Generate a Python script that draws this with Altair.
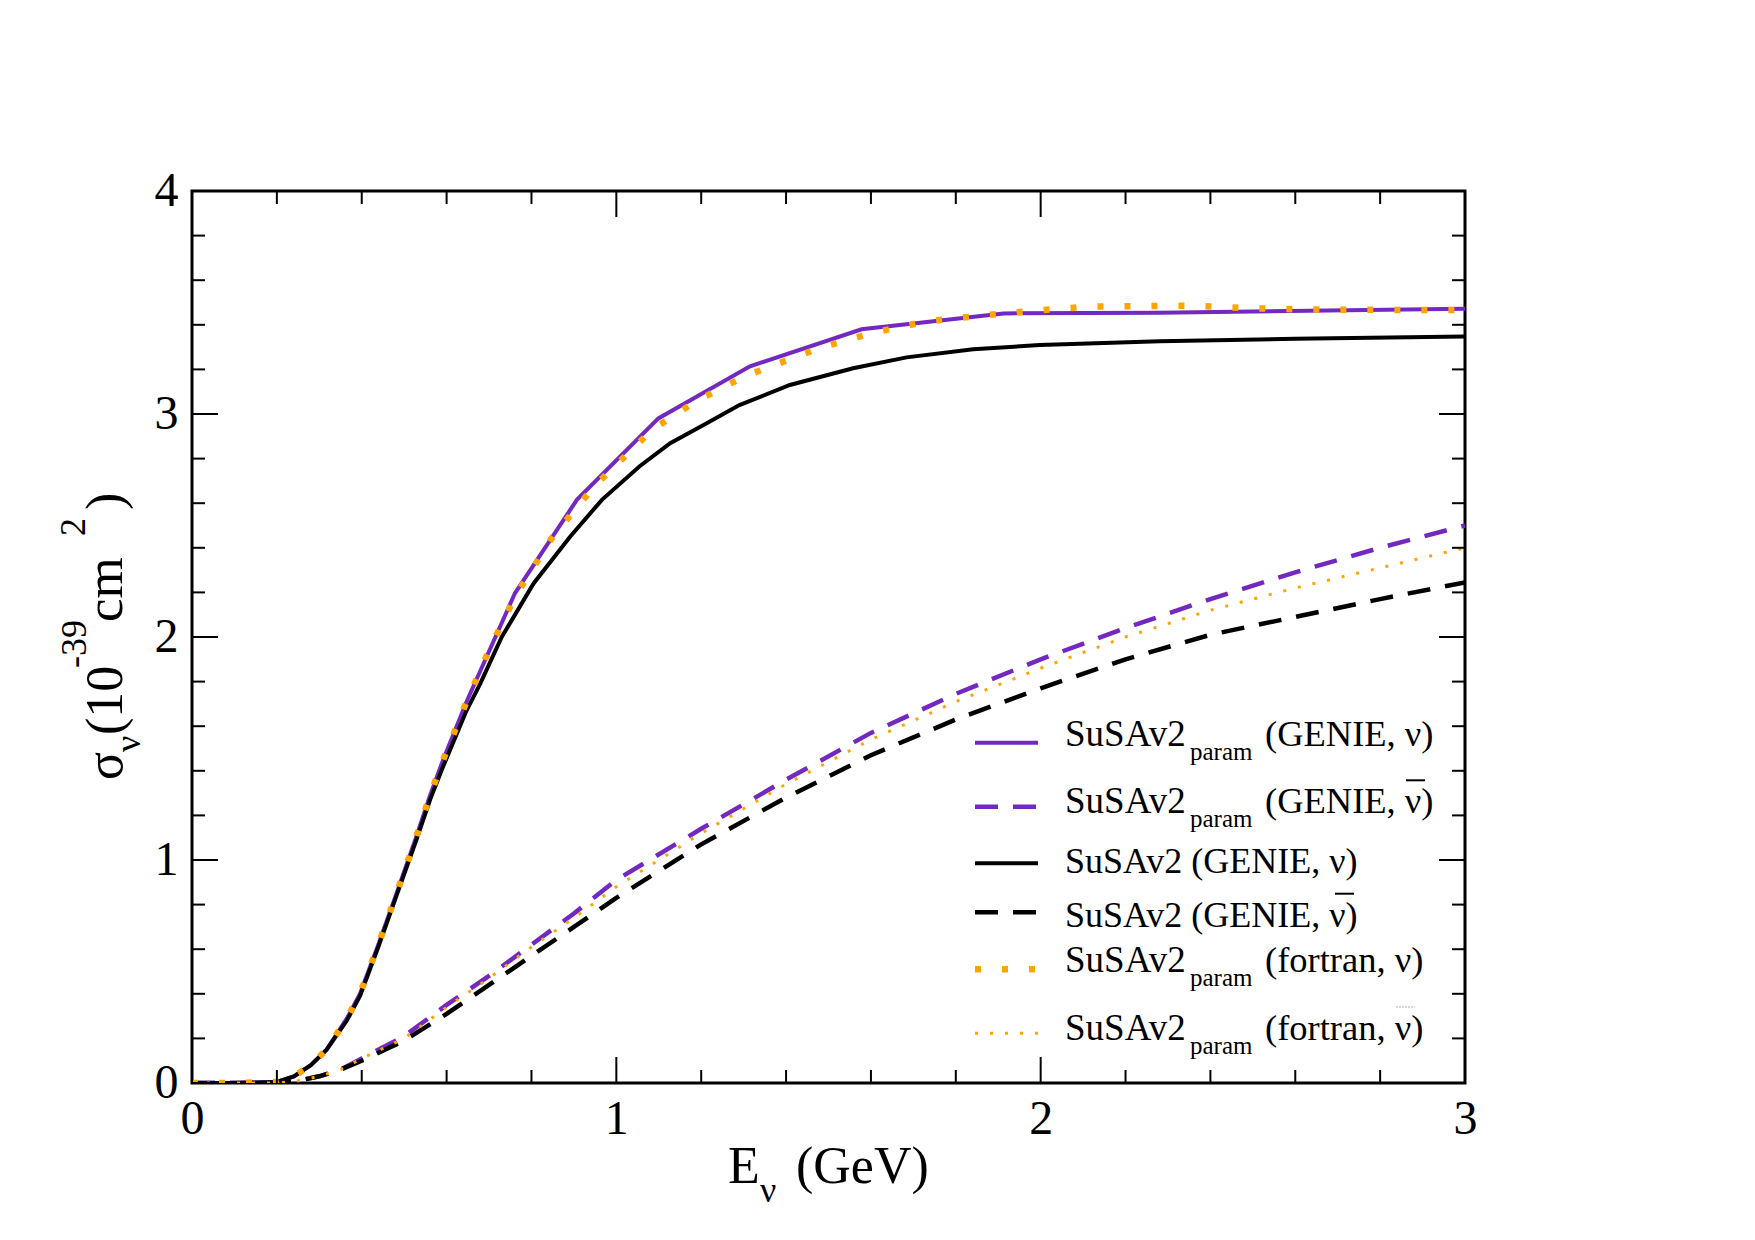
import altair as alt
import pandas as pd

# ---------------- data ----------------
E_param_genie_nu = [0, 0.1, 0.2, 0.24, 0.28, 0.317, 0.365, 0.396, 0.439, 0.482, 0.526, 0.561, 0.592, 0.647,
                    0.761, 0.907, 1.099, 1.315, 1.578, 1.912, 2.28, 3.0]
S_param_genie_nu = [0, 0, 0.005, 0.03, 0.08, 0.15, 0.29, 0.40, 0.62, 0.85, 1.09, 1.29, 1.45, 1.71,
                    2.196, 2.615, 2.98, 3.214, 3.38, 3.451, 3.454, 3.472]

E_param_genie_nubar = [0, 0.1, 0.2, 0.25, 0.3, 0.35, 0.4, 0.5, 0.6, 0.7, 0.8, 0.9, 1.0, 1.2, 1.4, 1.6,
                       1.8, 2.0, 2.2, 2.4, 2.6, 2.8, 3.0]
S_param_genie_nubar = [0, 0, 0, 0.01, 0.03, 0.06, 0.11, 0.21, 0.35, 0.48, 0.62, 0.76, 0.91, 1.14, 1.36, 1.57,
                       1.745, 1.90, 2.04, 2.17, 2.29, 2.40, 2.50]

E_susa_genie_nu = [0, 0.1, 0.2, 0.24, 0.28, 0.317, 0.365, 0.396, 0.439, 0.482, 0.526, 0.561, 0.592, 0.647,
                   0.679, 0.73, 0.805, 0.891, 0.966, 1.055, 1.127, 1.213, 1.29, 1.409, 1.558, 1.684, 1.841,
                   1.998, 2.28, 2.6, 3.0]
S_susa_genie_nu = [0, 0, 0.005, 0.03, 0.08, 0.148, 0.28, 0.39, 0.61, 0.84, 1.075, 1.27, 1.42, 1.67,
                   1.79, 2.0, 2.24, 2.45, 2.615, 2.766, 2.869, 2.958, 3.04, 3.13, 3.205, 3.254, 3.29,
                   3.309, 3.326, 3.337, 3.347]

E_susa_genie_nubar = [0, 0.1, 0.2, 0.25, 0.3, 0.35, 0.4, 0.5, 0.6, 0.7, 0.8, 0.9, 1.0, 1.2, 1.4, 1.6,
                      1.8, 2.0, 2.2, 2.4, 2.6, 2.8, 3.0]
S_susa_genie_nubar = [0, 0, 0, 0.01, 0.03, 0.06, 0.10, 0.19, 0.31, 0.44, 0.57, 0.70, 0.83, 1.07, 1.28, 1.47,
                      1.63, 1.77, 1.90, 2.01, 2.09, 2.17, 2.245]

E_param_fortran_nu = [0, 0.1, 0.2, 0.24, 0.28, 0.317, 0.365, 0.396, 0.439, 0.482, 0.526, 0.561, 0.592, 0.647,
                      0.7, 0.761, 0.85, 0.95, 1.085, 1.19, 1.304, 1.48, 1.602, 1.728, 1.853, 1.979, 2.104,
                      2.234, 2.36, 2.486, 2.61, 2.8, 3.0]
S_param_fortran_nu = [0, 0, 0.005, 0.03, 0.08, 0.15, 0.29, 0.40, 0.62, 0.85, 1.09, 1.29, 1.45, 1.71,
                      1.94, 2.18, 2.45, 2.68, 2.93, 3.06, 3.17, 3.297, 3.363, 3.414, 3.44, 3.462, 3.481,
                      3.484, 3.486, 3.475, 3.469, 3.467, 3.466]

E_param_fortran_nubar = [0, 0.1, 0.2, 0.25, 0.3, 0.35, 0.4, 0.5, 0.6, 0.7, 0.8, 0.9, 1.0, 1.2, 1.4, 1.6,
                         1.8, 2.0, 2.2, 2.4, 2.6, 2.8, 3.0]
S_param_fortran_nubar = [0, 0, 0, 0.01, 0.03, 0.06, 0.11, 0.20, 0.34, 0.47, 0.61, 0.74, 0.88, 1.12, 1.34, 1.54,
                         1.71, 1.86, 2.00, 2.12, 2.22, 2.31, 2.40]

x_major = [0, 1, 2, 3]
x_minor = [0.2, 0.4, 0.6, 0.8, 1.2, 1.4, 1.6, 1.8, 2.2, 2.4, 2.6, 2.8]
y_major = [0, 1, 2, 3, 4]
y_minor = [0.2, 0.4, 0.6, 0.8, 1.2, 1.4, 1.6, 1.8, 2.2, 2.4, 2.6, 2.8, 3.2, 3.4, 3.6, 3.8]

NU = "\u03bd"

# ---------------- styles ----------------
PURPLE = "#7328BF"
ORANGE = "#FFA500"
BLACK = "#000000"
SERIF = "Liberation Serif"

W, H = 1273, 892
xs = alt.Scale(domain=[0, 3], nice=False, zero=False)
ys = alt.Scale(domain=[0, 4], nice=False, zero=False)

XAX = alt.Axis(values=x_major, format="d", labelFont=SERIF, labelFontSize=48, labelColor="black",
               ticks=False, domain=False, grid=False, title=None, labelPadding=12, labelFlush=False)
YAX = alt.Axis(values=y_major, format="d", labelFont=SERIF, labelFontSize=48, labelColor="black",
               ticks=False, domain=False, grid=False, title=None, labelPadding=14, labelFlush=False)

series = [
    (E_param_genie_nu, S_param_genie_nu, PURPLE, 4, None),
    (E_param_genie_nubar, S_param_genie_nubar, PURPLE, 4.5, [23, 15]),
    (E_susa_genie_nu, S_susa_genie_nu, BLACK, 4, None),
    (E_susa_genie_nubar, S_susa_genie_nubar, BLACK, 4.5, [23, 15]),
    (E_param_fortran_nu, S_param_fortran_nu, ORANGE, 6.5, [6, 21]),
    (E_param_fortran_nubar, S_param_fortran_nubar, ORANGE, 3, [3, 12]),
]

layers = []
for E, S, col, sw, dash in series:
    df = pd.DataFrame({"E": E, "s": S})
    kw = dict(color=col, strokeWidth=sw, clip=True)
    if dash:
        kw["strokeDash"] = dash
    layers.append(
        alt.Chart(df).mark_line(**kw).encode(
            x=alt.X("E:Q", scale=xs, axis=XAX),
            y=alt.Y("s:Q", scale=ys, axis=YAX),
        )
    )


# ---------------- inward ticks on all four sides ----------------
def yticks(vals, length):
    df = pd.DataFrame({"v": vals})
    left = alt.Chart(df).mark_rule(color="black", strokeWidth=2).encode(
        y=alt.Y("v:Q", scale=ys, axis=YAX), x=alt.value(0), x2=alt.value(length))
    right = alt.Chart(df).mark_rule(color="black", strokeWidth=2).encode(
        y=alt.Y("v:Q", scale=ys, axis=YAX), x=alt.value(W - length), x2=alt.value(W))
    return [left, right]


def xticks(vals, length):
    df = pd.DataFrame({"v": vals})
    bottom = alt.Chart(df).mark_rule(color="black", strokeWidth=2).encode(
        x=alt.X("v:Q", scale=xs, axis=XAX), y=alt.value(H - length), y2=alt.value(H))
    top = alt.Chart(df).mark_rule(color="black", strokeWidth=2).encode(
        x=alt.X("v:Q", scale=xs, axis=XAX), y=alt.value(0), y2=alt.value(length))
    return [bottom, top]


layers += yticks(y_major, 26) + yticks(y_minor, 13) + xticks(x_major, 26) + xticks(x_minor, 13)


# ---------------- text helpers ----------------
def txt(s, x, y, size, angle=0, align="left"):
    kw = dict(font=SERIF, fontSize=size, color="black", align=align, baseline="alphabetic")
    if angle:
        kw["angle"] = angle
    return alt.Chart(pd.DataFrame({"t": [s]})).mark_text(**kw).encode(
        x=alt.value(x), y=alt.value(y), text="t:N")


def hline(x1, x2, y, col, sw, dash=None):
    kw = dict(color=col, strokeWidth=sw)
    if dash:
        kw["strokeDash"] = dash
    return alt.Chart(pd.DataFrame({"a": [0]})).mark_rule(**kw).encode(
        x=alt.value(x1), x2=alt.value(x2), y=alt.value(y))


# axis titles
layers += [
    txt("E", 536, 992, 52),
    txt(NU, 568, 1011, 36),
    txt("(GeV)", 604, 992, 52),
    txt("\u03c3", -70, 589, 52, angle=270),
    txt(NU, -52, 561, 36, angle=270),
    txt("(10", -70, 544, 52, angle=270),
    txt("-39", -106, 477, 36, angle=270),
    txt("cm", -70, 431, 53, angle=270),
    txt("2", -107, 345, 36, angle=270),
    txt(")", -70, 319, 52, angle=270),
]

# legend: (main text, subscript, rest, line y, text baseline y, overline x-range or None)
legend_rows = [
    ("SuSAv2", "param", "(GENIE, " + NU + ")", 551.7, 555.0, None),
    ("SuSAv2", "param", "(GENIE, " + NU + ")", 615.7, 622.3, (1214, 1233)),
    ("SuSAv2 (GENIE, " + NU + ")", None, None, 672.3, 681.7, None),
    ("SuSAv2 (GENIE, " + NU + ")", None, None, 721.3, 735.7, (1143, 1162)),
    ("SuSAv2", "param", "(fortran, " + NU + ")", 778.3, 780.7, None),
    ("SuSAv2", "param", "(fortran, " + NU + ")", 842.3, 849.0, (1204, 1223)),
]
for i, ((main, sub, rest, yl, yt, ov), (_, _, col, sw, dash)) in enumerate(zip(legend_rows, series)):
    layers.append(hline(783, 846, yl, col, sw, dash))
    layers.append(txt(main, 873, yt, 37 if sub else 36))
    if sub:
        layers.append(txt(sub, 998, yt + 14, 25))
        layers.append(txt(rest, 1073, yt, 36.5))
    if ov:
        if i == 5:
            layers.append(hline(ov[0], ov[1], yt - 33, "#b0b0b0", 1, [2, 1]))
        else:
            layers.append(hline(ov[0], ov[1], yt - 33, "black", 2))

chart = alt.layer(*layers).properties(
    width=W, height=H,
    autosize=alt.AutoSizeParams(type="none"),
    padding={"left": 192, "top": 191, "right": 290, "bottom": 157},
    background="white",
).configure_view(stroke="black", strokeWidth=3)

chart.save("out.html", embed_options={"renderer": "svg", "actions": False})
